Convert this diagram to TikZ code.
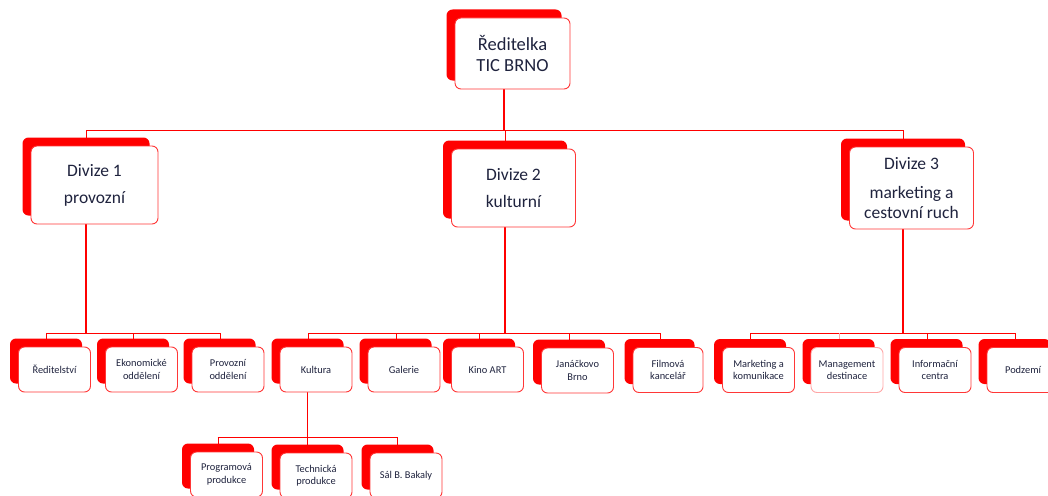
\documentclass[tikz,border=0pt]{standalone}
\usepackage{fontspec}
\setmainfont{Carlito}
\usetikzlibrary{shadows,backgrounds}
\definecolor{txt}{RGB}{31,35,62}
\definecolor{boxline}{RGB}{255,55,55}
\tikzset{
 orgbox/.style={draw=boxline, line width=0.9pt, fill=white, rounded corners=6pt,
   general shadow={fill=red, shadow xshift=-8.5pt, shadow yshift=8.5pt},
   text=txt, align=center, inner sep=2pt},
 topbox/.style={orgbox, minimum width=115pt, minimum height=71pt, font=\fontsize{18.5}{21}\selectfont},
 divbox/.style={orgbox, minimum width=124pt, minimum height=78pt, font=\fontsize{17.5}{20}\selectfont},
 smallbox/.style={orgbox, minimum width=72pt, minimum height=45pt, font=\fontsize{10.4}{12.5}\selectfont},
 trunk/.style={red, line width=1.7pt},
 conn/.style={red, line width=1pt},
 paleconn/.style={red!35, line width=1pt},
}
\begin{document}
\begin{tikzpicture}[x=1pt,y=-1pt]
\useasboundingbox (0,0) rectangle (1048,495);
% top
\node[topbox] (top) at (512.5,53.5) {Ředitelka\\TIC BRNO};
% divisions
\node[divbox, minimum width=127pt] (d1) at (94.5,185) {Divize 1\\[7pt]provozní};
\node[divbox] (d2) at (513.5,188) {Divize 2\\[7pt]kulturní};
\node[divbox, minimum height=82pt] (d3) at (911.5,188) {Divize 3\\[9pt]marketing a\\cestovní ruch};
% division 1 units
\node[smallbox] (r1) at (54.5,369.5) {Ředitelství};
\node[smallbox] (r2) at (141.5,369.5) {Ekonomické\\oddělení};
\node[smallbox] (r3) at (228,369.5) {Provozní\\oddělení};
% division 2 units
\node[smallbox] (k1) at (316,369.5) {Kultura};
\node[smallbox] (k2) at (404,369.5) {Galerie};
\node[smallbox] (k3) at (487.5,369.5) {Kino ART};
\node[smallbox] (k4) at (577.5,370.5) {Janáčkovo\\Brno};
\node[smallbox, minimum width=70pt] (k5) at (668,370) {Filmová\\kancelář};
% division 3 units
\node[smallbox] (m1) at (758.5,370) {Marketing a\\komunikace};
\node[smallbox, draw=red!35] (m2) at (847,370) {Management\\destinace};
\node[smallbox] (m3) at (935,370) {Informační\\centra};
\node[smallbox] (m4) at (1023,370) {Podzemí};
% culture units
\node[smallbox] (p1) at (226.5,474.5) {Programová\\produkce};
\node[smallbox] (p2) at (316,475.5) {Technická\\produkce};
\node[smallbox] (p3) at (406,475.5) {Sál B. Bakaly};
% bus levels
\coordinate (b0) at (0,130);
\coordinate (b1) at (0,333);
\coordinate (b2) at (0,437);
\begin{scope}[on background layer]
 % top level
 \draw[trunk] ([xshift=-8.5pt]top.south) -- ([xshift=-8.5pt]top.south |- b0);
 \draw[conn] ([xshift=-8.5pt]d1.north |- b0) -- ([xshift=-8.5pt]d3.north |- b0);
 \foreach \n in {d1,d2,d3}
   \draw[conn] ([xshift=-8.5pt]\n.north |- b0) -- ([xshift=-8.5pt]\n.north);
 % division trunks
 \foreach \n in {d1,d2,d3}
   \draw[trunk] ([xshift=-8.5pt]\n.south) -- ([xshift=-8.5pt]\n.south |- b1);
 \draw[conn] ([xshift=-8pt]r1.north |- b1) -- ([xshift=-8pt]r3.north |- b1);
 \draw[conn] ([xshift=-8pt]k1.north |- b1) -- ([xshift=-8pt]k5.north |- b1);
 \draw[conn] ([xshift=-8pt]m1.north |- b1) -- ([xshift=-8pt]m4.north |- b1);
 \foreach \n in {r1,r2,r3,k1,k2,k3,k4,k5,m1,m3,m4}
   \draw[conn] ([xshift=-8pt]\n.north |- b1) -- ([xshift=-8pt]\n.north);
 \draw[paleconn] ([xshift=-8pt]m2.north |- b1) -- ([xshift=-8pt]m2.north);
 % culture
 \draw[trunk] ([xshift=-8.5pt]k1.south) -- ([xshift=-8.5pt]k1.south |- b2);
 \draw[conn] ([xshift=-9pt]p1.north |- b2) -- ([xshift=-8pt]p3.north |- b2);
 \foreach \n in {p1,p2,p3}
   \draw[conn] ([xshift=-8.5pt]\n.north |- b2) -- ([xshift=-8.5pt]\n.north);
\end{scope}
\end{tikzpicture}
\end{document}
